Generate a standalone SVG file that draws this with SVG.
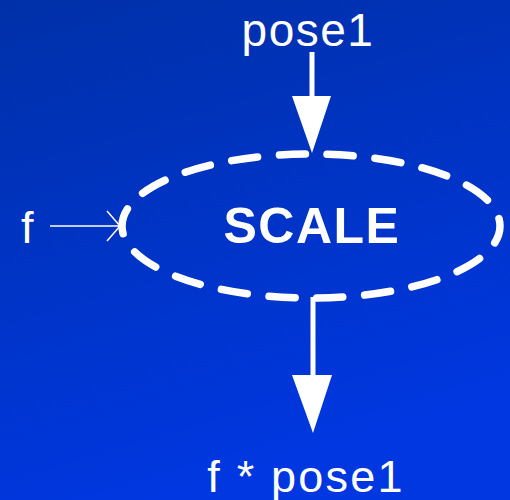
<svg xmlns="http://www.w3.org/2000/svg" width="510" height="500" viewBox="0 0 510 500">
<defs>
<linearGradient id="bg" x1="0" y1="0" x2="0.3" y2="1">
<stop offset="0" stop-color="#0030A8"/>
<stop offset="1" stop-color="#0037E0"/>
</linearGradient>
<style>
.t{fill:#fff;font-family:"Liberation Sans",Arial,sans-serif}
.arrow{fill:#fff}
</style>
</defs>
<rect width="510" height="500" fill="url(#bg)"/>
<g id="scale">
<ellipse cx="311" cy="226" rx="189" ry="72" fill="none" stroke="#fff" stroke-width="7.5" stroke-linecap="round" stroke-dasharray="26 21.87" stroke-dashoffset="8"/>
<text class="t" x="312" y="243" font-size="50" font-weight="bold" text-anchor="middle" letter-spacing="1.5">SCALE</text>
</g>
<g id="pose1"><text class="t" x="308" y="46" font-size="46" text-anchor="middle" letter-spacing="1.5">pose1</text></g>
<g id="f"><text class="t" x="21" y="243" font-size="45">f</text></g>
<g id="result"><text class="t" x="306" y="492" font-size="45" text-anchor="middle" letter-spacing="2.2">f * pose1</text></g>
<g id="connectors">
<line x1="312" y1="52" x2="312" y2="100" stroke="#fff" stroke-width="5"/>
<polygon class="arrow" points="292,96 331,96 312,153"/>
<line x1="313" y1="297" x2="313" y2="380" stroke="#fff" stroke-width="5"/>
<polygon class="arrow" points="292,375 332,375 313,433"/>
<line x1="50" y1="226" x2="120" y2="226" stroke="#fff" stroke-width="1.5"/>
<polyline points="107,211 120,226 107,241" fill="none" stroke="#fff" stroke-width="1.5"/>
</g>
</svg>
